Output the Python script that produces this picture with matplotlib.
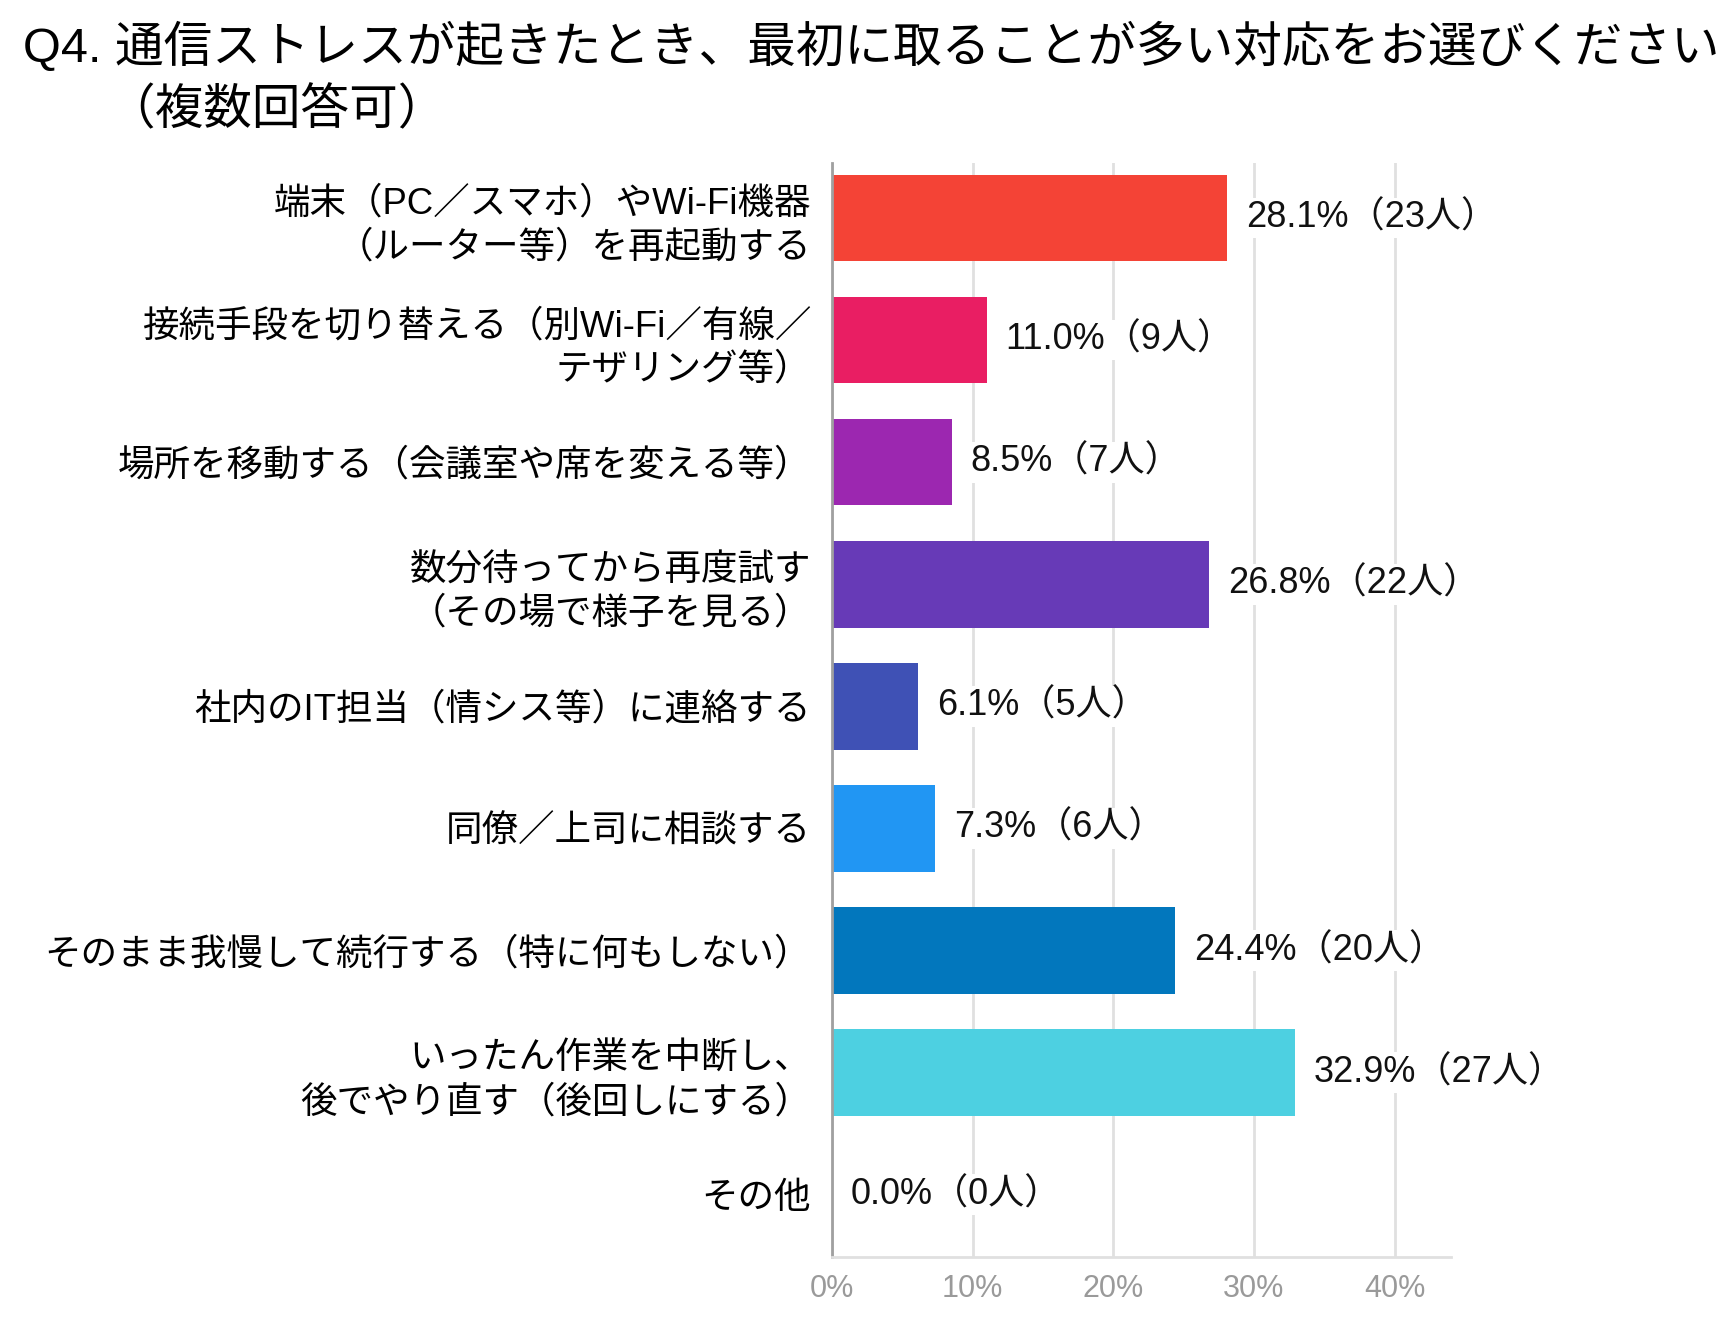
import matplotlib.pyplot as plt

plt.rcParams['font.family'] = ['Liberation Sans', 'Noto Sans CJK JP', 'DejaVu Sans']

# data
labels = [
    '端末（PC／スマホ）やWi-Fi機器\n（ルーター等）を再起動する',
    '接続手段を切り替える（別Wi-Fi／有線／\nテザリング等）',
    '場所を移動する（会議室や席を変える等）',
    '数分待ってから再度試す\n（その場で様子を見る）',
    '社内のIT担当（情シス等）に連絡する',
    '同僚／上司に相談する',
    'そのまま我慢して続行する（特に何もしない）',
    'いったん作業を中断し、\n後でやり直す（後回しにする）',
    'その他',
]
percents = [28.1, 11.0, 8.5, 26.8, 6.1, 7.3, 24.4, 32.9, 0.0]
counts = [23, 9, 7, 22, 5, 6, 20, 27, 0]
colors = ['#F44336', '#E91E63', '#9C27B0', '#673AB7', '#3F51B5',
          '#2196F3', '#0277BD', '#4DD0E1', '#BDBDBD']
xticks = [0, 10, 20, 30, 40]

fig = plt.figure(figsize=(17.35, 13.25), dpi=100)
ax = fig.add_axes([0.4795, 0.0513, 0.8363 - 0.4795, 0.877 - 0.0513])

ypos = list(range(len(labels)))
ax.barh(ypos, percents, height=0.71, color=colors, zorder=2)

for y, p, c in zip(ypos, percents, counts):
    ax.text(p + 1.35, y, f'{p:.1f}%（{c}人）', va='center', ha='left',
            fontsize=26, color='#111111', zorder=3,
            bbox=dict(facecolor='white', edgecolor='none', pad=2))

ax.set_xlim(0, 44)
ax.set_ylim(8.51, -0.45)
ax.set_yticks(ypos)
ax.set_yticklabels(labels, fontsize=26.3, linespacing=1.32)
ax.set_xticks(xticks)
ax.set_xticklabels([f'{t}%' for t in xticks], fontsize=22, color='#9A9A9A')
ax.tick_params(axis='y', length=0, pad=15)
ax.tick_params(axis='x', length=0, pad=12)

ax.grid(axis='x', color='#E0E0E0', linewidth=2, zorder=0)
for s in ['top', 'right']:
    ax.spines[s].set_visible(False)
ax.spines['left'].set_color('#A0A0A0')
ax.spines['left'].set_linewidth(2)
ax.spines['bottom'].set_color('#E0E0E0')
ax.spines['bottom'].set_linewidth(2)

fig.text(0.013, 0.9645, 'Q4. 通信ストレスが起きたとき、最初に取ることが多い対応をお選びください',
         fontsize=35, va='center', ha='left')
fig.text(0.061, 0.916, '（複数回答可）', fontsize=35, va='center', ha='left')

fig.savefig('out.png', dpi=100)
